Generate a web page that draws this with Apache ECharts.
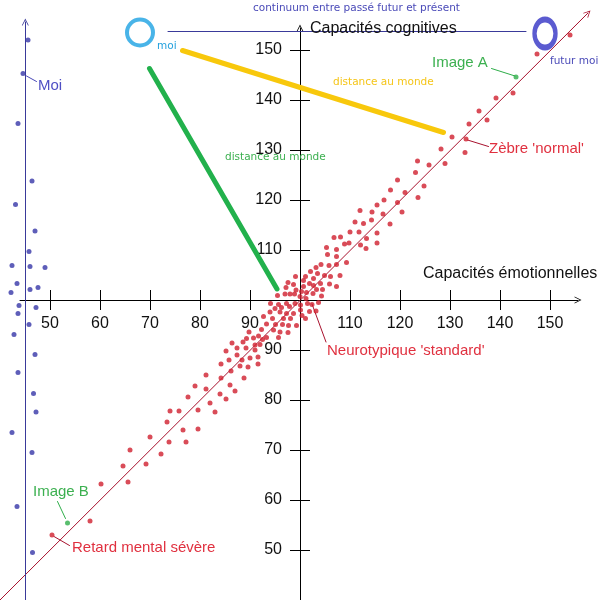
<!DOCTYPE html>
<html><head><meta charset="utf-8">
<script src="https://cdn.jsdelivr.net/npm/echarts@6/dist/echarts.min.js"></script>
<style>html,body{margin:0;padding:0;background:#fff}#c{width:600px;height:600px}</style>
</head><body><div id="c"></div>
<script>
// ---- data (x = Capacités émotionnelles, y = Capacités cognitives) ----
const xTicks = [50,60,70,80,90,100,110,120,130,140,150];
const xTickLabels = [50,60,70,80,90,110,120,130,140,150];
const yTicks = [50,60,70,80,90,100,110,120,130,140,150];
const yTickLabels = [50,60,70,80,90,110,120,130,140,150];

const redDots = [
[50.4,53.0],[58.0,55.8],[60.2,63.2],[65.6,63.6],[64.6,66.8],[66.0,70.0],[69.2,67.2],[70.0,72.6],[72.2,69.2],[73.8,71.6],
[73.4,75.6],[74.0,77.8],[75.8,77.8],[76.6,74.0],[77.2,71.6],[79.6,74.2],[79.6,78.0],[77.6,80.6],[79.0,82.8],[81.2,82.2],
[82.0,79.4],[83.0,77.6],[81.2,85.0],[84.0,81.2],[85.2,80.2],[86.0,83.0],[87.0,81.8],[84.2,84.4],[86.2,85.8],[84.2,87.2],
[85.8,88.0],[85.2,89.8],[86.4,91.4],[87.4,89.0],[88.0,86.8],[89.6,86.6],[88.8,84.4],[88.4,88.0],[90.0,88.4],[87.4,90.4],
[88.6,91.6],[89.2,90.4],[91.0,91.0],[91.6,88.6],[91.6,87.2],
[89.3,92.3],[90.7,92.4],[92.5,92.1],[92.0,91.1],[91.0,90.0],[91.7,92.8],[93.3,92.5],[95.7,92.5],[92.3,94.1],[94.7,94.0],
[96.0,93.6],[97.6,93.5],[93.3,95.2],[95.1,95.1],[96.5,95.1],[97.7,94.9],[99.3,94.9],[92.7,96.7],[94.5,96.3],[96.7,96.3],
[98.1,96.3],[94.0,97.6],[96.0,97.6],[97.3,97.3],[98.7,97.3],[100.4,96.9],[101.1,96.3],[95.0,98.3],[96.3,98.5],[97.9,98.7],
[100.1,98.0],[101.9,97.7],[103.2,97.8],[94.1,99.3],[95.7,99.1],[97.3,99.3],[99.0,99.3],[100.1,99.0],[101.5,99.3],[102.4,99.1],
[103.7,99.5],[95.5,100.9],[97.0,101.2],[98.0,101.2],[98.9,101.2],[100.0,100.7],[101.2,100.3],[97.2,102.5],[99.2,102.0],[100.3,101.7],
[101.3,101.5],[102.6,101.3],[104.3,100.8],[97.6,103.5],[98.7,103.1],[100.7,102.7],[102.7,102.9],[103.3,102.1],[104.5,102.1],[107.3,102.7],
[99.1,104.7],[100.7,103.9],[101.9,103.3],[104.1,103.3],[105.9,103.2],[101.1,104.7],[102.7,104.3],[102.1,105.7],[103.5,105.3],[104.9,104.9],
[106.1,104.7],[108.0,104.9],[103.2,106.5],[104.2,107.1],[105.8,106.9],[107.3,107.1],[109.3,107.5],[105.5,109.1],[107.3,108.7],[89.8,93.6],
[105.3,110.5],[107.3,110.1],[106.8,112.5],[108.1,112.6],[108.9,111.2],[109.8,111.4],[110.0,113.6],[111.8,113.6],[111.0,115.6],[112.1,111.0],
[113.3,112.3],[113.2,110.3],[112.7,115.3],[114.3,116.0],[112.0,117.9],[114.4,117.6],[115.4,119.0],[115.4,113.4],[115.4,111.4],[116.6,117.2],
[116.8,120.0],[118.0,115.2],[118.1,122.0],[119.5,124.0],[119.5,119.5],[120.4,117.6],[121.0,121.5],[123.1,125.5],[123.5,127.8],[123.6,120.5],
[124.8,122.8],[125.8,127.0],[129.0,127.3],[128.2,130.2],[133.0,129.5],[130.4,132.6],[133.2,132.2],[133.8,135.2],[137.4,136.0],[135.8,137.8],
[139.2,140.4],[142.6,141.4],[147.4,149.2],[154.0,153.0]
];

const blueDots = [
[45.6,152.0],[44.6,145.3],[43.6,135.3],[46.4,123.8],[43.1,119.1],[47.0,113.8],[45.8,109.7],[42.4,106.9],[46.0,106.7],[49.0,106.5],
[43.4,103.3],[47.6,102.5],[42.2,101.5],[46.0,102.1],[43.8,98.9],[47.2,98.5],[43.6,97.3],[45.8,95.1],[42.8,93.1],[47.0,89.1],
[43.6,85.5],[46.7,81.3],[47.2,77.6],[42.4,73.5],[46.4,69.5],[43.4,58.7],[46.5,49.5]
];

const greenDots = [[143.2,144.6],[53.5,55.4]];   // Image A, Image B

const diagonal = [[40,40],[157.6,157.4]];
const blueAxis = [[45.06,40],[45.06,155.6]];
const continuumLine = [[73.6,153.7],[145.2,153.7]];
const yellowLine = [[76.5,149.9],[128.7,133.5]];
const greenLine = [[69.9,146.3],[95.4,102.2]];
const moiRing = [[68,153.5]];
const futurMoiRing = [[149,153.3]];

const moiLeader = [[45.3,144.8],[47.3,143.7]];
const imageALeader = [[138.3,146.3],[143.0,144.8]];
const imageBLeader = [[51.5,59.7],[53.1,56.3]];
const retardLeader = [[50.8,52.7],[53.9,50.9]];
const zebreLeader = [[133.5,132.0],[137.7,130.7]];
const neuroLeader = [[102.4,99.2],[105.2,91.6]];

// ---- chart ----
const FONT = 'Liberation Sans, Arial, sans-serif';
const SMALL = 'DejaVu Sans, Verdana, sans-serif';
const chevron = 'path://M0,10 L5,0 L10,10 L8.8,10 L5,2.4 L1.2,10 Z';
const RED = '#cf1f2e', DARKRED = '#a8122e', BLUE = '#3636a8', GREEN = '#2fae4a';

function seg(coords, color, width, arrow, z) {
  return {
    type: 'lines', coordinateSystem: 'cartesian2d', xAxisIndex: 0, yAxisIndex: 0,
    silent: true, z: z || 2,
    symbol: arrow ? ['none', chevron] : ['none', 'none'],
    symbolSize: arrow ? [11, 7] : 0,
    lineStyle: { color: color, width: width, opacity: 1, cap: 'round' },
    data: [{ coords: coords }]
  };
}
function txt(x, y, s, color, size, fam) {
  return { type: 'text', x: x, y: y, z: 50, silent: true,
    style: { text: s, fill: color, fontSize: size, fontFamily: fam || FONT, verticalAlign: 'middle' } };
}

const chart = echarts.init(document.getElementById('c'), null, { renderer: 'canvas' });
chart.setOption({
  animation: false,
  backgroundColor: '#fff',
  grid: [
    { left: 0, right: 0, top: 0, bottom: 0 },
    { left: 20, right: 22, top: 0, height: 300 },
    { left: 0, width: 300, top: 28, bottom: 0 }
  ],
  xAxis: [
    { gridIndex: 0, type: 'value', min: 40, max: 160, show: false },
    { gridIndex: 1, type: 'value', min: 44, max: 155.6, position: 'bottom',
      axisLine: { show: true, onZero: false, symbol: ['none', chevron], symbolSize: [11, 7], lineStyle: { color: '#000', width: 1 } },
      axisTick: { show: true, customValues: xTicks, length: 10, inside: false, lineStyle: { color: '#000' } },
      axisLabel: { show: true, customValues: xTickLabels, margin: 16, color: '#111', fontSize: 16, fontFamily: FONT },
      splitLine: { show: false } },
    { gridIndex: 1, type: 'value', min: 44, max: 155.6, position: 'bottom',
      axisLine: { show: false, onZero: false },
      axisTick: { show: true, customValues: xTicks, length: 10, inside: true, lineStyle: { color: '#000' } },
      axisLabel: { show: false }, splitLine: { show: false } },
    { gridIndex: 2, type: 'value', min: 0, max: 1, show: false }
  ],
  yAxis: [
    { gridIndex: 0, type: 'value', min: 40, max: 160, show: false },
    { gridIndex: 1, type: 'value', min: 0, max: 1, show: false },
    { gridIndex: 2, type: 'value', min: 40, max: 154.4, position: 'right',
      axisLine: { show: true, onZero: false, symbol: ['none', chevron], symbolSize: [11, 7], lineStyle: { color: '#000', width: 1 } },
      axisTick: { show: true, customValues: yTicks, length: 10, inside: false, lineStyle: { color: '#000' } },
      axisLabel: { show: true, inside: true, customValues: yTickLabels, margin: 18, color: '#111', fontSize: 16, fontFamily: FONT },
      splitLine: { show: false } },
    { gridIndex: 2, type: 'value', min: 40, max: 154.4, position: 'right',
      axisLine: { show: false, onZero: false },
      axisTick: { show: true, customValues: yTicks, length: 10, inside: true, lineStyle: { color: '#000' } },
      axisLabel: { show: false }, splitLine: { show: false } }
  ],
  series: [
    seg(diagonal, DARKRED, 1, true, 1),
    seg(blueAxis, '#3a3a9a', 1, true, 1),
    seg(continuumLine, '#3a3a9a', 1, false, 1),
    seg(moiLeader, '#4a4ab8', 1, false, 3),
    seg(imageALeader, GREEN, 1, false, 3),
    seg(imageBLeader, GREEN, 1, false, 3),
    seg(retardLeader, DARKRED, 1, false, 3),
    seg(zebreLeader, DARKRED, 1, false, 3),
    seg(neuroLeader, DARKRED, 1, false, 3),
    seg(yellowLine, '#f8c80c', 5, false, 4),
    seg(greenLine, '#22b14c', 5, false, 4),
    { type: 'scatter', xAxisIndex: 0, yAxisIndex: 0, z: 5, silent: true, symbol: 'circle', symbolSize: 5,
      itemStyle: { color: RED }, data: redDots },
    { type: 'scatter', xAxisIndex: 0, yAxisIndex: 0, z: 5, silent: true, symbol: 'circle', symbolSize: 5,
      itemStyle: { color: BLUE }, data: blueDots },
    { type: 'scatter', xAxisIndex: 0, yAxisIndex: 0, z: 5, silent: true, symbol: 'circle', symbolSize: 5,
      itemStyle: { color: GREEN }, data: greenDots },
    { type: 'scatter', xAxisIndex: 0, yAxisIndex: 0, z: 6, silent: true, symbol: 'circle', symbolSize: 26,
      itemStyle: { color: 'rgba(0,0,0,0)', borderColor: '#1ba1e2', borderWidth: 4 }, data: moiRing },
    { type: 'scatter', xAxisIndex: 0, yAxisIndex: 0, z: 6, silent: true, symbol: 'circle', symbolSize: [21, 28],
      itemStyle: { color: 'rgba(0,0,0,0)', borderColor: '#3232c4', borderWidth: 5 }, data: futurMoiRing }
  ],
  graphic: [
    txt(253, 8, 'continuum entre passé futur et présent', '#4a4ab8', 10.5, SMALL),
    txt(310, 29, 'Capacités cognitives', '#111', 16),
    txt(157, 46, 'moi', '#22a0dd', 10.5, SMALL),
    txt(550, 61, 'futur moi', '#4a4ab8', 10.5, SMALL),
    txt(38, 86, 'Moi', '#4f4fc4', 15),
    txt(432, 63, 'Image A', '#3cb050', 15),
    txt(333, 82, 'distance au monde', '#f5c518', 10.5, SMALL),
    txt(225, 157, 'distance au monde', '#3cb050', 10.5, SMALL),
    txt(489, 149, "Zèbre 'normal'", '#e0303f', 15),
    txt(423, 274, 'Capacités émotionnelles', '#111', 16),
    txt(327, 351, "Neurotypique 'standard'", '#e0303f', 15),
    txt(33, 492, 'Image B', '#3cb050', 15),
    txt(72, 548, 'Retard mental sévère', '#e0303f', 15)
  ]
});
</script>
</body></html>
